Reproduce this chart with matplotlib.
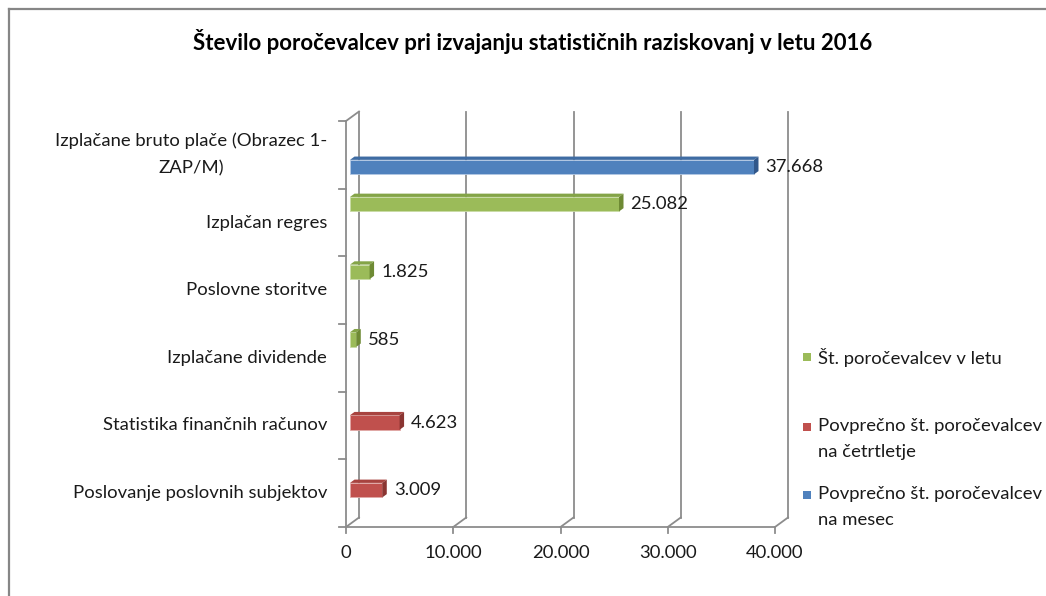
import matplotlib
matplotlib.use('Agg')
import matplotlib.pyplot as plt
import matplotlib.transforms as mtransforms
from matplotlib.patches import Polygon, Rectangle
from matplotlib.lines import Line2D
import numpy as np

# ---------------- data ----------------
title = "Število poročevalcev pri izvajanju statističnih raziskovanj v letu 2016"
categories = ["Poslovanje poslovnih subjektov",
              "Statistika finančnih računov",
              "Izplačane dividende",
              "Poslovne storitve",
              "Izplačan regres",
              "Izplačane bruto plače (Obrazec 1-\nZAP/M)"]
series_names = ["Št. poročevalcev v letu",
                "Povprečno št. poročevalcev\nna četrtletje",
                "Povprečno št. poročevalcev\nna mesec"]
letu = [0, 0, 585, 1825, 25082, 0]
cetrtletje = [3009, 4623, 0, 0, 0, 0]
mesec = [0, 0, 0, 0, 0, 37668]
x_ticks = [0, 10000, 20000, 30000, 40000]
x_tick_labels = ["0", "10.000", "20.000", "30.000", "40.000"]

# ---------------- style ----------------
FONT = "Lato"
plt.rcParams['font.family'] = [FONT, 'DejaVu Sans']
FS = 13.3
W, H, DPI = 1046, 596, 100
front_col = ['#9BBB59', '#C0504D', '#4F81BD']
top_col = ['#84A447', '#A8433F', '#3F6CA3']
side_col = ['#6E8A34', '#8A3532', '#31578A']
edge_col = ['#C9DBA6', '#E1A9A7', '#B3C8E3']
grid_col = '#8C8C8C'
text_col = '#1a1a1a'
slot_offsets = [0.226, 0.0, -0.226]   # green, red, blue inside a category band
bar_h = 0.215
BACK = np.array([13.0, 9.5])    # depth of the wall (pixels)
BAR_FRONT = np.array([4.0, 3.0])
BAR_DEPTH = np.array([4.5, 3.3])

fig = plt.figure(figsize=(W / DPI, H / DPI), dpi=DPI)
fig.patch.set_facecolor('white')

# chart-area border (left + top visible)
fig.add_artist(Line2D([8.5 / W, 8.5 / W], [-0.01, 1 - 8.5 / H], transform=fig.transFigure,
                      color='#868686', lw=1.6))
fig.add_artist(Line2D([8.5 / W, 1.01], [1 - 8.5 / H, 1 - 8.5 / H], transform=fig.transFigure,
                      color='#868686', lw=1.6))

x0, x1 = 346, 775
yb, yt = 527, 121
ax = fig.add_axes([x0 / W, (H - yb) / H, (x1 - x0) / W, (yb - yt) / H])
ax.set_xlim(0, 40000)
ax.set_ylim(0, len(categories))
ax.axis('off')
ax.patch.set_alpha(0)

ident = mtransforms.IdentityTransform()


def P(x, y, off=(0, 0)):
    p = ax.transData.transform((x, y))
    return (p[0] + off[0], p[1] + off[1])


def line(pts, **kw):
    xs, ys = zip(*pts)
    ax.add_line(Line2D(xs, ys, transform=ident, clip_on=False,
                       color=grid_col, lw=1.3, **kw))


n = len(categories)
# back wall gridlines
for xt in x_ticks:
    line([P(xt, 0, BACK), P(xt, n, BACK)])
    # floor diagonals
    line([P(xt, 0), P(xt, 0, BACK)])
    # front tick marks below floor
    line([P(xt, 0), P(xt, 0, (0, -6))])
# floor front line
line([P(0, 0), P(40000, 0)])
# front vertical (category) axis
line([P(0, 0), P(0, n)])
line([P(0, n), P(0, n, BACK)])
for k in range(n + 1):
    line([P(0, k), P(0, k, (-7, 0))])

# x tick labels
for xt, lab in zip(x_ticks, x_tick_labels):
    ax.annotate(lab, xy=(xt, 0), xytext=(0, -26), textcoords='offset pixels',
                ha='center', va='center', fontsize=FS, color=text_col, annotation_clip=False)

# category labels
for k, cat in enumerate(categories):
    ax.annotate(cat, xy=(0, k + 0.5), xytext=(-19, 0), textcoords='offset pixels',
                ha='right', va='center', multialignment='center', fontsize=FS,
                color=text_col, annotation_clip=False, linespacing=1.85)

# bars (3D-like)
bar_tr = mtransforms.offset_copy(ax.transData, fig=fig, x=BAR_FRONT[0], y=BAR_FRONT[1], units='dots')
series = [letu, cetrtletje, mesec]
ypos = np.arange(n) + 0.5
for s, vals in enumerate(series):
    for k, v in enumerate(vals):
        if v <= 0:
            continue
        yc = ypos[k] + slot_offsets[s]
        y0b, y1b = yc - bar_h / 2, yc + bar_h / 2
        ax.barh(yc, v, height=bar_h, left=0, color=front_col[s], edgecolor=edge_col[s],
                linewidth=0.6, transform=bar_tr, zorder=3)
        f = BAR_FRONT
        b = BAR_FRONT + BAR_DEPTH
        top = [P(0, y1b, f), P(v, y1b, f), P(v, y1b, b), P(0, y1b, b)]
        side = [P(v, y0b, f), P(v, y0b, b), P(v, y1b, b), P(v, y1b, f)]
        ax.add_patch(Polygon(top, closed=True, transform=ident, facecolor=top_col[s],
                             edgecolor='none', zorder=3, clip_on=False))
        ax.add_patch(Polygon(side, closed=True, transform=ident, facecolor=side_col[s],
                             edgecolor='none', zorder=3, clip_on=False))
        ax.annotate(f"{v:,}".replace(',', '.'), xy=(v, yc),
                    xytext=(BAR_FRONT[0] + BAR_DEPTH[0] + 7, BAR_FRONT[1]),
                    textcoords='offset pixels', ha='left', va='center', fontsize=FS,
                    color=text_col, annotation_clip=False, zorder=4)

# title
fig.text(533 / W, 1 - 42 / H, title, ha='center', va='center', fontsize=16,
         fontweight='bold', color='#000000')

# legend (manual, Excel-like)
leg_y = [357, 427, 495]
for s, name in enumerate(series_names):
    yy = leg_y[s]
    fig.add_artist(Rectangle((803 / W, 1 - (yy + 4) / H), 8 / W, 8 / H,
                             transform=fig.transFigure, facecolor=front_col[s], edgecolor='none'))
    fig.text(818 / W, 1 - (yy - 9) / H, name, ha='left', va='top', fontsize=FS,
             color=text_col, linespacing=1.75)

fig.savefig('out.png', dpi=DPI, facecolor='white')
